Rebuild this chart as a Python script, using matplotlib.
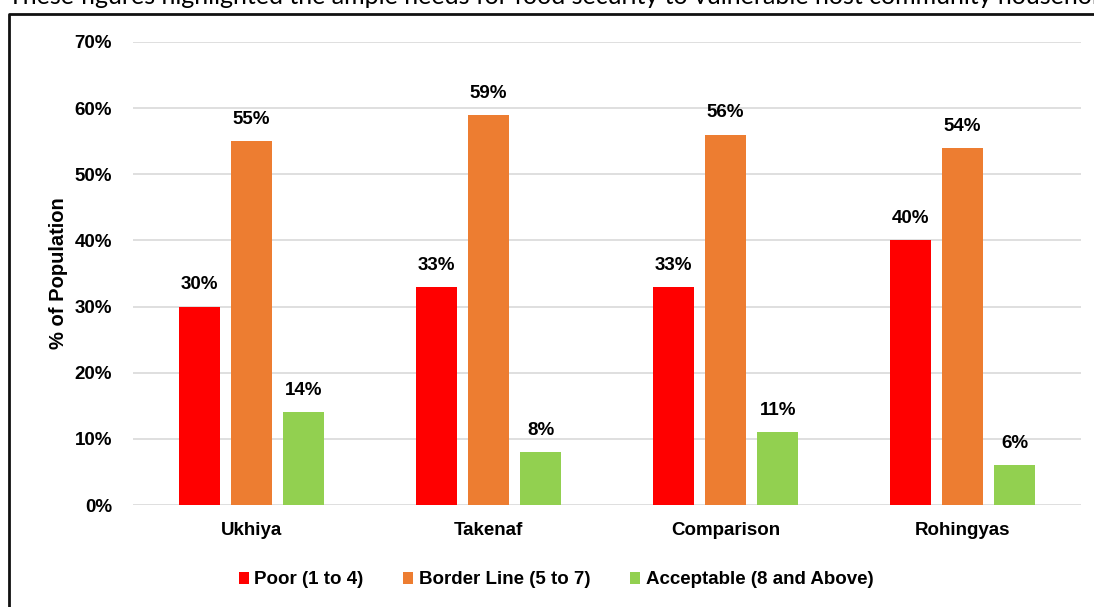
import numpy as np
import matplotlib.pyplot as plt
from matplotlib.lines import Line2D
from matplotlib.patches import Patch

plt.rcParams["font.family"] = ["Liberation Sans", "DejaVu Sans"]

# Food consumption score groups by area
areas = ["Ukhiya", "Takenaf", "Comparison", "Rohingyas"]
series = ["Poor (1 to 4)", "Border Line (5 to 7)", "Acceptable (8 and Above)"]
poor = [30, 33, 33, 40]
borderline = [55, 59, 56, 54]
acceptable = [14, 8, 11, 6]
yticks = [0, 10, 20, 30, 40, 50, 60, 70]

colors = ["#FF0000", "#ED7D31", "#92D050"]
values = [poor, borderline, acceptable]
fs = 13.5

fig = plt.figure(figsize=(10.94, 6.07), dpi=100)
ax = fig.add_axes([133 / 1094, 102 / 607, 948 / 1094, 463 / 607])

x = np.arange(len(areas))
step = 0.2215
width = 0.173
for j, (vals, col) in enumerate(zip(values, colors)):
    pos = x + (j - 1) * step
    bars = ax.bar(pos, vals, width=width, color=col, zorder=3)
    for b, v in zip(bars, vals):
        ax.annotate(f"{v}%", (b.get_x() + b.get_width() / 2, v),
                    xytext=(0, 9.5), textcoords="offset points",
                    ha="center", va="bottom", fontsize=fs, fontweight="bold")

ax.set_xlim(-0.5, len(areas) - 0.5)
ax.set_ylim(0, 70)
ax.set_yticks(yticks)
ax.set_yticklabels([f"{t}%" for t in yticks], fontsize=fs, fontweight="bold")
ax.set_xticks(x)
ax.set_xticklabels(areas, fontsize=fs, fontweight="bold")
ax.tick_params(axis="y", length=0, pad=15)
ax.tick_params(axis="x", length=0, pad=12)
ax.grid(axis="y", color="#d9d9d9", linewidth=1.2, zorder=0)
for s in ax.spines.values():
    s.set_visible(False)
ax.set_ylabel("% of Population", fontsize=14.5, fontweight="bold", labelpad=5)

handles = [Patch(facecolor=c, edgecolor="none") for c in colors]
fig.legend(handles, series, loc="center", bbox_to_anchor=(556 / 1094, 1 - 580 / 607),
           ncol=3, frameon=False, handlelength=0.55, handleheight=0.6,
           handletextpad=0.3, columnspacing=2.1,
           prop={"size": fs, "weight": "bold"})

# surrounding frame and the line of body text above it
fig.add_artist(Line2D([9 / 1094, 9 / 1094, 1.0], [0, 1 - 14 / 607, 1 - 14 / 607],
                      transform=fig.transFigure, color="#111111", linewidth=2))
fig.text(8 / 1094, 1 - 4 / 607,
         "These figures highlighted the ample needs for food security to vulnerable host community households",
         fontsize=18, family=["Lato", "DejaVu Sans"], va="baseline", ha="left")

fig.savefig("out.png", dpi=100)
